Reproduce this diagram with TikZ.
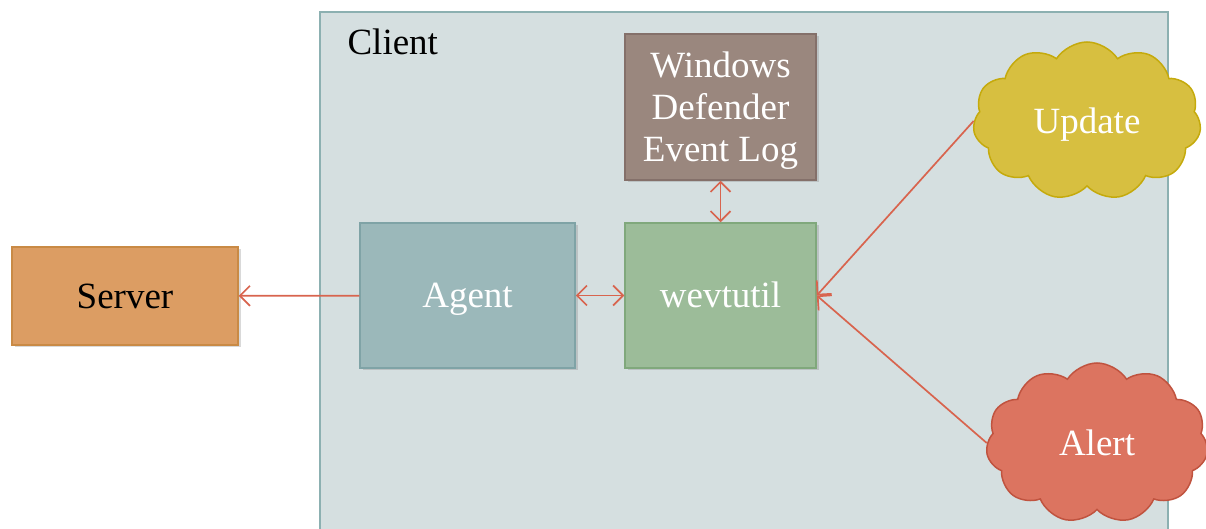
\documentclass[tikz,border=0pt]{standalone}
\usepackage{fontspec}
\setmainfont{Liberation Serif}
\usepackage{tikz}
\usetikzlibrary{shapes.symbols, shadows, arrows.meta}
\definecolor{clientfill}{HTML}{D5DFE0}
\definecolor{clientline}{HTML}{8CB0B1}
\definecolor{serverfill}{HTML}{DC9D63}
\definecolor{serverline}{HTML}{C98A45}
\definecolor{agentfill}{HTML}{9BB8BA}
\definecolor{agentline}{HTML}{7FA3A6}
\definecolor{wevfill}{HTML}{9CBC99}
\definecolor{wevline}{HTML}{80A87C}
\definecolor{deffill}{HTML}{9A877E}
\definecolor{defline}{HTML}{84706A}
\definecolor{updfill}{HTML}{D7BF40}
\definecolor{updline}{HTML}{C5AA0C}
\definecolor{alertfill}{HTML}{DC7460}
\definecolor{alertline}{HTML}{C0533F}
\definecolor{link}{HTML}{D8644E}
\tikzset{
	>={Straight Barb[length=10pt, width=20pt]},
	x=1pt, y=1pt,
	align=center,
	every node/.style={font=\fontsize{37}{42}\selectfont},
	oneline/.style={text height=30pt, text depth=5pt},
	block/.style={rectangle, line width=1.5pt, text=white, inner sep=0pt,
		drop shadow={opacity=0.3, shadow xshift=2.5pt, shadow yshift=-2.5pt}},
	puff/.style={cloud, cloud puffs=11, cloud puff arc=115, aspect=1.45,
		line width=1.5pt, text=white, inner sep=0pt, oneline},
	link/.style={draw=link, line width=1.7pt}
}

\begin{document}
\begin{tikzpicture}
	\useasboundingbox (0,0) rectangle (1206,529);
	
	% client area
	\draw[fill=clientfill, draw=clientline, line width=1.5pt] (320,-10) rectangle (1168,517);
	\node[anchor=west] (client) at (344,487) {Client};
	
	\node[block, oneline, fill=serverfill, draw=serverline, text=black, minimum width=226, minimum height=98] (server) at (125,233) {Server};
	\node[block, oneline, fill=agentfill, draw=agentline, minimum width=215, minimum height=145] (agent) at (467.5,233.5) {Agent};
	\node[block, oneline, fill=wevfill, draw=wevline, minimum width=191, minimum height=145] (wev) at (720.5,233.5) {wevtutil};
	\node[block, text depth=0pt, fill=deffill, draw=defline, minimum width=191, minimum height=146] (def) at (720.5,422) {Windows\\Defender\\Event Log};
	
	\node[puff, fill=updfill, draw=updline, minimum width=228, minimum height=158] (upd) at (1087,408) {Update};
	\node[puff, fill=alertfill, draw=alertline, minimum width=222, minimum height=160] (alert) at (1097,86) {Alert};
	
	\draw[link]
	(agent) edge[->] (server)
	(agent) edge[<->] (wev)
	(def) edge[<->] (wev)
	(upd.west) edge[->] (wev.east)
	(alert.west) edge[->] (wev.east)
	;
\end{tikzpicture}
\end{document}
